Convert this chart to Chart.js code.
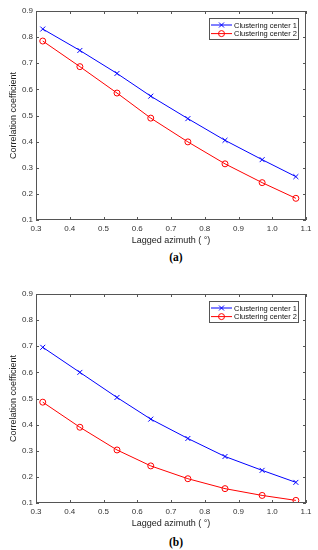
<!DOCTYPE html>
<html>
<head>
<meta charset="utf-8">
<script src="https://cdn.jsdelivr.net/npm/chart.js@4"></script>
<style>
  html, body { margin: 0; padding: 0; background: #fff; }
  body { width: 318px; height: 550px; position: relative; overflow: hidden; }
  .box { position: absolute; left: 0; width: 318px; height: 250px; }
  .cap { position: absolute; width: 318px; left: 17px; text-align: center;
         font: bold 11.5px "Liberation Serif", serif; color: #000; }
</style>
</head>
<body>
<div class="box" style="top:0"><canvas id="chartA"></canvas></div>
<div class="cap" style="top:251px">(a)</div>
<div class="box" style="top:283px"><canvas id="chartB"></canvas></div>
<div class="cap" style="top:536px">(b)</div>
<script>
// valores
const azimute = [0.32, 0.43, 0.54, 0.64, 0.75, 0.86, 0.97, 1.07];
const centro1A = [0.831, 0.749, 0.661, 0.574, 0.488, 0.405, 0.331, 0.266];
const centro2A = [0.785, 0.687, 0.586, 0.490, 0.399, 0.315, 0.243, 0.183];
const centro1B = [0.696, 0.600, 0.504, 0.421, 0.347, 0.278, 0.225, 0.179];
const centro2B = [0.486, 0.390, 0.303, 0.242, 0.193, 0.155, 0.129, 0.110];
const nomes = ['Clustering center 1', 'Clustering center 2'];

const corTexto = '#333';
const fonte = '"Liberation Sans", Arial, sans-serif';

// caixa e marcas para dentro, estilo MATLAB
const caixaPlugin = {
    id: 'caixa',
    afterDraw(chart) {
        const { ctx, chartArea: { left, right, top, bottom }, scales: { x, y } } = chart;
        ctx.save();
        ctx.strokeStyle = '#555';
        ctx.lineWidth = 1;
        ctx.strokeRect(left + 0.5, top + 0.5, right - left - 1, bottom - top - 1);
        ctx.beginPath();
        x.ticks.forEach(t => {
            const px = Math.round(x.getPixelForValue(t.value)) + 0.5;
            ctx.moveTo(px, bottom); ctx.lineTo(px, bottom - 3);
            ctx.moveTo(px, top); ctx.lineTo(px, top + 3);
        });
        y.ticks.forEach(t => {
            const py = Math.round(y.getPixelForValue(t.value)) + 0.5;
            ctx.moveTo(left, py); ctx.lineTo(left + 3, py);
            ctx.moveTo(right, py); ctx.lineTo(right - 3, py);
        });
        ctx.stroke();

        // legenda
        const bx0 = right - 97, by0 = top + 7, bw = 89, bh = 21;
        ctx.fillStyle = '#fff';
        ctx.fillRect(bx0, by0, bw, bh);
        ctx.strokeStyle = '#555';
        ctx.strokeRect(bx0 + 0.5, by0 + 0.5, bw, bh);
        ctx.font = '7.5px ' + fonte;
        ctx.textBaseline = 'middle';
        chart.data.datasets.forEach((ds, i) => {
            const yy = by0 + 7 + i * 8.6;
            ctx.strokeStyle = ds.borderColor;
            ctx.beginPath();
            ctx.moveTo(bx0 + 2, yy); ctx.lineTo(bx0 + 23, yy);
            ctx.stroke();
            const cx = bx0 + 12.5;
            ctx.beginPath();
            if (ds.pointStyle === 'crossRot') {
                ctx.moveTo(cx - 2.5, yy - 2.5); ctx.lineTo(cx + 2.5, yy + 2.5);
                ctx.moveTo(cx - 2.5, yy + 2.5); ctx.lineTo(cx + 2.5, yy - 2.5);
            } else {
                ctx.arc(cx, yy, 3, 0, Math.PI * 2);
            }
            ctx.stroke();
            ctx.fillStyle = '#111';
            ctx.fillText(ds.label, bx0 + 25, yy + 0.5);
        });
        ctx.restore();
    }
};

function montarGrafico(id, serie1, serie2) {
    const ctx = document.getElementById(id).getContext('2d');
    return new Chart(ctx, {
        type: 'line',
        data: {
            datasets: [{
                label: nomes[0],
                data: azimute.map((v, i) => ({ x: v, y: serie1[i] })),
                borderColor: '#0000ff',
                backgroundColor: 'transparent',
                borderWidth: 1,
                pointStyle: 'crossRot',
                pointRadius: 3.5,
                pointBorderWidth: 1,
                tension: 0
            }, {
                label: nomes[1],
                data: azimute.map((v, i) => ({ x: v, y: serie2[i] })),
                borderColor: '#ff0000',
                backgroundColor: 'transparent',
                borderWidth: 1,
                pointStyle: 'circle',
                pointRadius: 3,
                pointBorderWidth: 1,
                tension: 0
            }]
        },
        options: {
            responsive: true,
            maintainAspectRatio: false,
            animation: false,
            layout: { padding: { top: 11, right: 12, bottom: 0, left: 0 } },
            plugins: { legend: { display: false }, tooltip: { enabled: false } },
            scales: {
                x: {
                    type: 'linear',
                    min: 0.3, max: 1.1,
                    grid: { display: false, drawTicks: false },
                    border: { display: false },
                    ticks: { stepSize: 0.1, color: corTexto, font: { family: fonte, size: 8 }, padding: 4 },
                    title: { display: true, text: 'Lagged azimuth ( °)', color: '#222',
                             font: { family: fonte, size: 9 }, padding: { top: 2, bottom: 4 } },
                    afterFit(scale) { scale.height = 30; }
                },
                y: {
                    min: 0.1, max: 0.9,
                    grid: { display: false, drawTicks: false },
                    border: { display: false },
                    ticks: { stepSize: 0.1, color: corTexto, font: { family: fonte, size: 8 }, padding: 3 },
                    title: { display: true, text: 'Correlation coefficient', color: '#222',
                             font: { family: fonte, size: 9 }, padding: { top: 8, bottom: 0 } },
                    afterFit(scale) { scale.width = 36; }
                }
            }
        },
        plugins: [caixaPlugin]
    });
}

montarGrafico('chartA', centro1A, centro2A);
montarGrafico('chartB', centro1B, centro2B);
</script>
</body>
</html>
